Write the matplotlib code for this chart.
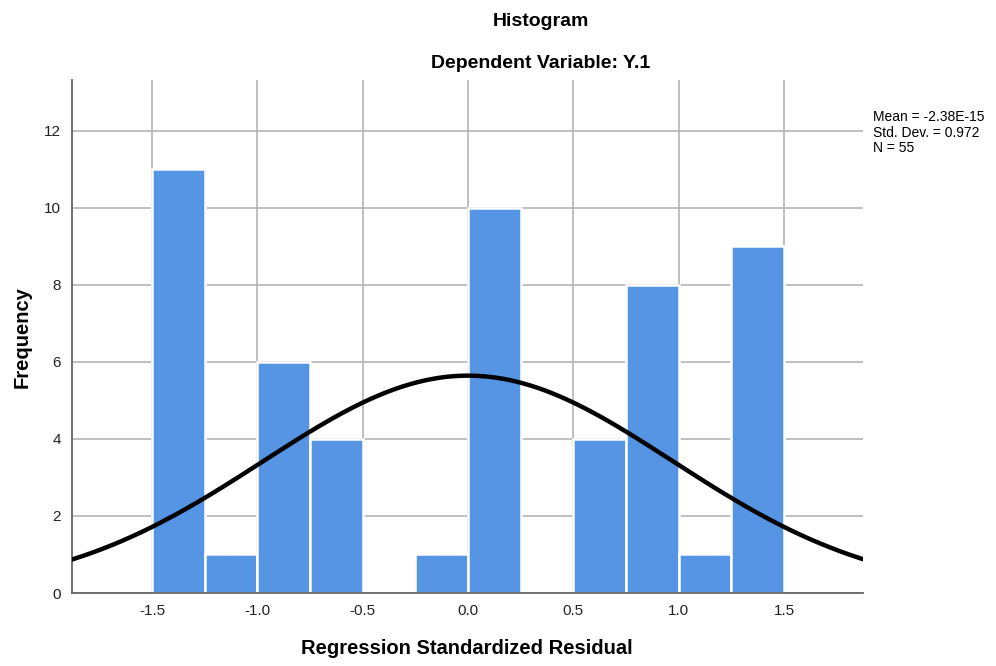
import numpy as np
import matplotlib
matplotlib.use("Agg")
import matplotlib.pyplot as plt

plt.rcParams['font.family'] = ['Liberation Sans', 'DejaVu Sans']

# Histogram bins (width 0.25) and counts
bin_edges = [-1.5, -1.25, -1.0, -0.75, -0.5, -0.25, 0.0, 0.25, 0.5, 0.75, 1.0, 1.25, 1.5]
counts = [11, 1, 6, 4, 0, 1, 10, 0, 4, 8, 1, 9]

mean = -2.38e-15
std = 0.972
n = 55

xticks = [-1.5, -1.0, -0.5, 0.0, 0.5, 1.0, 1.5]
yticks = [0, 2, 4, 6, 8, 10, 12]

fig = plt.figure(figsize=(9.96, 6.66), dpi=100)
ax = fig.add_axes([0.0723, 0.1096, 0.7942, 0.7703])

ax.set_axisbelow(True)
ax.grid(True, color='#b4b4b4', linewidth=1.2)

widths = np.diff(bin_edges)
ax.bar(bin_edges[:-1], counts, width=widths, align='edge',
       color='#5595e3', edgecolor='white', linewidth=1.8, zorder=2)

# fitted normal curve
xs = np.linspace(-1.88, 1.875, 400)
bw = widths[0]
ys = n * bw / (std * np.sqrt(2 * np.pi)) * np.exp(-0.5 * ((xs - mean) / std) ** 2)
ax.plot(xs, ys, color='black', linewidth=3.2, zorder=3)

ax.set_xlim(-1.88, 1.875)
ax.set_ylim(0, 13.32)
ax.set_xticks(xticks)
ax.set_xticklabels([f"{t:.1f}" for t in xticks])
ax.set_yticks(yticks)
ax.tick_params(length=0, labelsize=11, colors='#222222', pad=8)

for s in ['top', 'right']:
    ax.spines[s].set_visible(False)
ax.spines['left'].set_color('#666666')
ax.spines['bottom'].set_color('#666666')
ax.spines['left'].set_linewidth(1.3)
ax.spines['bottom'].set_linewidth(1.3)

# axis labels placed in figure coords
fig.text(0.469, 0.027, "Regression Standardized Residual", ha='center', va='center',
         fontsize=14.5, fontweight='bold')
fig.text(0.022, 0.494, "Frequency", ha='center', va='center', rotation=90,
         fontsize=14.5, fontweight='bold')

fig.text(0.543, 0.968, "Histogram", ha='center', va='center', fontsize=14, fontweight='bold')
fig.text(0.543, 0.905, "Dependent Variable: Y.1", ha='center', va='center', fontsize=14, fontweight='bold')

fig.text(0.877, 0.801, f"Mean = -2.38E-15\nStd. Dev. = {std}\nN = {n}",
         ha='left', va='center', fontsize=10, linespacing=1.12)

fig.savefig("out.png", dpi=100)
